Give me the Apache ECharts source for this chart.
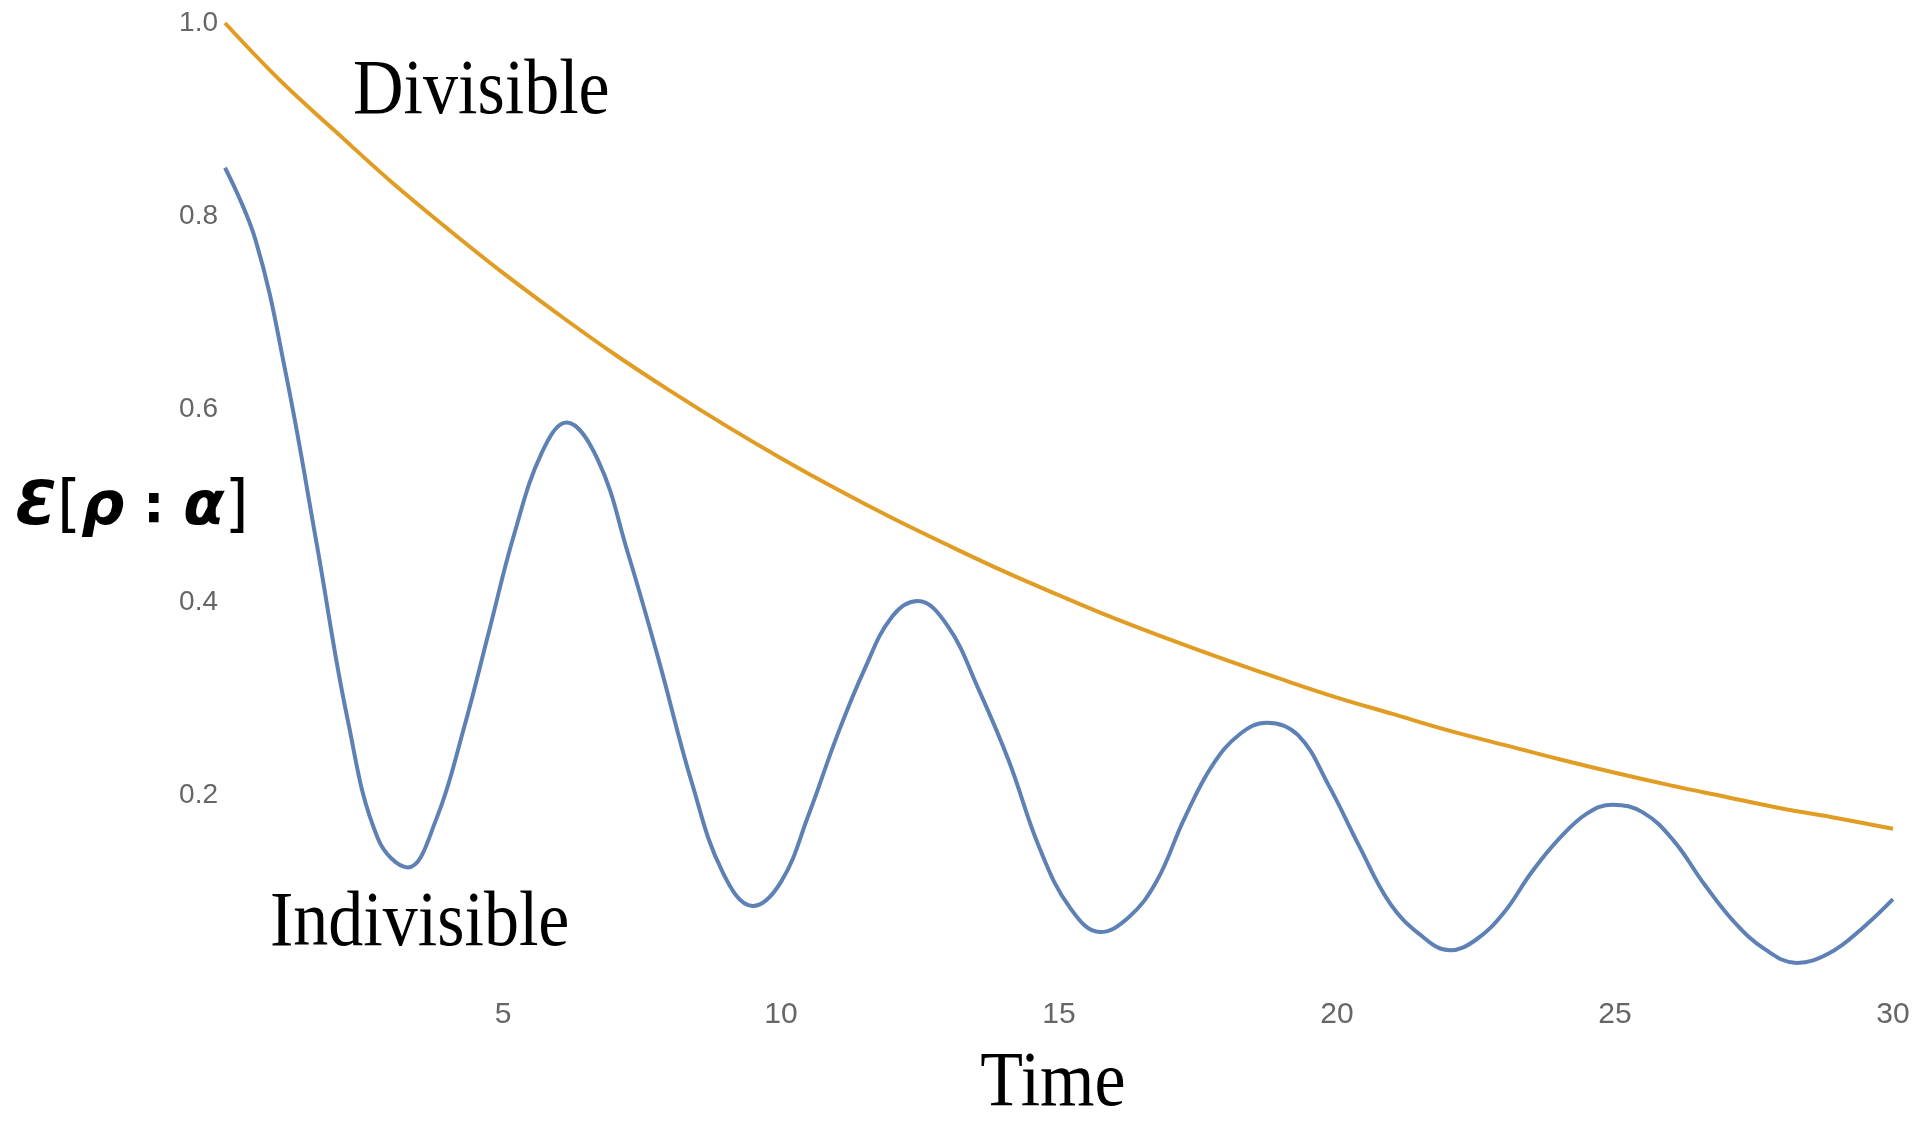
<!DOCTYPE html>
<html>
<head>
	<meta charset="utf-8">
	<title>Divisible / Indivisible</title>
	<style>
		html,body{margin:0;padding:0;background:#fff;}
		#chart{width:1921px;height:1141px;}
	</style>
</head>
<body>
<div id="chart"></div>
<script type="text/javascript" src="https://cdn.jsdelivr.net/npm/echarts@6/dist/echarts.min.js"></script>
<script>
// values
var divTime = [0,1,2,3,4,5,6,7,8,9,10,11,12,13,14,15,16,17,18,19,20,21,22,23,24,25,26,27,28,29,30];
var divValue = [1.0,0.94,0.887,0.835,0.787,0.741,0.698,0.657,0.619,0.583,0.549,0.517,0.487,0.459,0.432,0.407,
    0.383,0.361,0.34,0.32,0.301,0.284,0.267,0.252,0.237,0.223,0.21,0.198,0.186,0.176,0.165];

var indTime = [0,0.55,1.1,1.65,2.2,2.75,3.29,
    3.8,4.3,4.75,5.2,5.7,6.14,
    6.7,7.25,7.8,8.4,8.95,9.49,
    10,10.5,11,11.5,12,12.46,
    13,13.55,14.1,14.65,15.2,15.74,
    16.25,16.75,17.25,17.75,18.25,18.74,
    19.3,19.85,20.4,20.95,21.5,22.03,
    22.5,23,23.5,24,24.5,24.96,
    25.5,26.05,26.6,27.15,27.7,28.27,
    28.85,29.45,30];
var indValue = [0.85,0.775,0.635,0.46,0.28,0.155,0.125,
    0.175,0.27,0.37,0.47,0.555,0.586,
    0.548,0.45,0.34,0.212,0.12,0.085,
    0.11,0.18,0.26,0.33,0.385,0.401,
    0.375,0.31,0.235,0.145,0.083,0.058,
    0.073,0.11,0.175,0.23,0.263,0.275,
    0.262,0.21,0.147,0.088,0.055,0.039,
    0.05,0.078,0.12,0.155,0.181,0.19,
    0.182,0.153,0.108,0.068,0.04,0.026,
    0.036,0.062,0.092];

var xTicks = [5,10,15,20,25,30];
var yTicks = [0.2,0.4,0.6,0.8,1.0];

function pairs(xs, ys){
    var out = [];
    for(var i = 0; i < xs.length; i++){
        out.push([xs[i], ys[i]]);
    }
    return out;
}

var myChart = echarts.init(document.getElementById('chart'));
var serif = '"Liberation Serif","Times New Roman",serif';

var option = {
    backgroundColor: '#fff',
    animation: false,
    grid: {
        left: 225,
        right: 28,
        top: 23,
        bottom: 153,
        containLabel: false,
        outerBoundsMode: 'none'
    },
    xAxis: {
        type: 'value',
        min: 0,
        max: 30,
        interval: 5,
        axisLine: {show: false},
        axisTick: {show: false},
        splitLine: {show: false},
        axisLabel: {
            showMinLabel: false,
            margin: 12,
            color: '#666',
            fontSize: 30,
            fontFamily: '"Liberation Sans",Arial,sans-serif',
            formatter: function(v){ return xTicks.indexOf(v) >= 0 ? String(v) : ''; }
        }
    },
    yAxis: {
        type: 'value',
        min: 0,
        max: 1,
        interval: 0.2,
        axisLine: {show: false},
        axisTick: {show: false},
        splitLine: {show: false},
        axisLabel: {
            showMinLabel: false,
            margin: 7,
            color: '#666',
            fontSize: 28,
            fontFamily: '"Liberation Sans",Arial,sans-serif',
            formatter: function(v){
                for(var i = 0; i < yTicks.length; i++){
                    if(Math.abs(yTicks[i] - v) < 1e-6) return yTicks[i].toFixed(1);
                }
                return '';
            }
        }
    },
    series: [
        {
            name: 'Indivisible',
            type: 'line',
            showSymbol: false,
            smooth: 0.4,
            lineStyle: {color: '#5E81B5', width: 4},
            itemStyle: {color: '#5E81B5'},
            data: pairs(indTime, indValue)
        },
        {
            name: 'Divisible',
            type: 'line',
            showSymbol: false,
            smooth: 0.4,
            lineStyle: {color: '#E19C24', width: 4},
            itemStyle: {color: '#E19C24'},
            data: pairs(divTime, divValue)
        }
    ],
    // text labels, serif and a bit stretched vertically like the original
    graphic: [
        {
            type: 'text', x: 353, y: 92, scaleY: 1.12,
            style: {text: 'Divisible', font: '70px ' + serif, fill: '#000', align: 'left', verticalAlign: 'middle'}
        },
        {
            type: 'text', x: 270, y: 924, scaleY: 1.12,
            style: {text: 'Indivisible', font: '70px ' + serif, fill: '#000', align: 'left', verticalAlign: 'middle'}
        },
        {
            type: 'text', x: 1053, y: 1084, scaleY: 1.12,
            style: {text: 'Time', font: '70px ' + serif, fill: '#000', align: 'center', verticalAlign: 'middle'}
        },
        {
            type: 'text', x: 132, y: 508,
            style: {
                text: '{e|Ɛ}{b|[}{e|ρ}{c| : }{e|α}{b|]}',
                align: 'center',
                verticalAlign: 'middle',
                rich: {
                    e: {fontFamily: '"DejaVu Sans",sans-serif', fontWeight: 'bold', fontStyle: 'italic', fontSize: 60, fill: '#000'},
                    b: {fontFamily: '"DejaVu Sans",sans-serif', fontSize: 62, fill: '#000'},
                    c: {fontFamily: '"DejaVu Sans",sans-serif', fontWeight: 'bold', fontSize: 54, fill: '#000'}
                }
            }
        }
    ]
};
myChart.setOption(option);
</script>
</body>
</html>
